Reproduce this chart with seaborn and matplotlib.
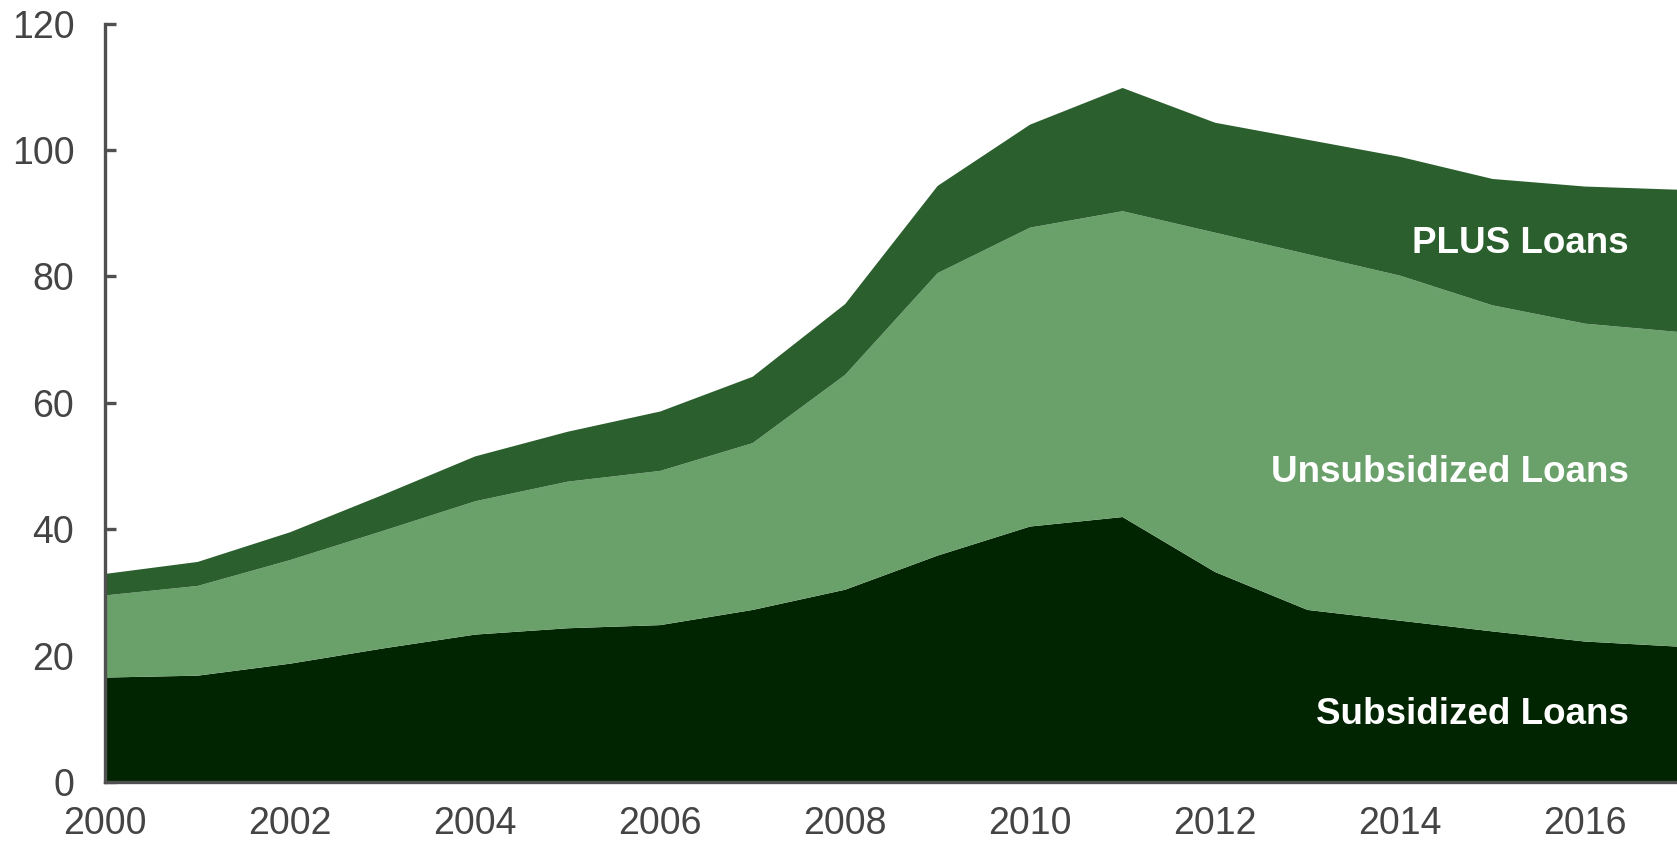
import matplotlib
matplotlib.use("Agg")
import matplotlib.pyplot as plt
import seaborn as sns
import numpy as np

# Loan volumes by type (billions)
years = list(range(2000, 2018))
subsidized = [16.6, 16.9, 18.8, 21.2, 23.4, 24.4, 24.9, 27.3, 30.5, 35.9,
              40.5, 42.0, 33.3, 27.3, 25.6, 23.9, 22.3, 21.5]
sub_plus_unsub = [29.6, 31.1, 35.2, 39.8, 44.5, 47.6, 49.3, 53.7, 64.5, 80.6,
                  87.8, 90.4, 87.0, 83.6, 80.2, 75.5, 72.6, 71.3]
total = [33.0, 34.9, 39.6, 45.5, 51.6, 55.5, 58.7, 64.2, 75.7, 94.4,
         104.1, 109.9, 104.4, 101.7, 99.0, 95.5, 94.3, 93.8]

unsubsidized = list(np.array(sub_plus_unsub) - np.array(subsidized))
plus = list(np.array(total) - np.array(sub_plus_unsub))

labels = ["Subsidized Loans", "Unsubsidized Loans", "PLUS Loans"]
colors = ["#012401", "#6aa16b", "#2b5f2e"]

sns.set_theme(style="white")
plt.rcParams['font.family'] = ['Liberation Sans', 'DejaVu Sans']

fig = plt.figure(figsize=(16.77, 8.44), dpi=100)
ax = fig.add_axes([0.0625, 0.0735, 0.9375, 0.8985])

ax.stackplot(years, subsidized, unsubsidized, plus, colors=colors, linewidth=0)

ax.set_xlim(2000, 2017)
ax.set_ylim(0, 120)
ax.set_xticks(range(2000, 2017, 2))
ax.set_yticks(range(0, 121, 20))

axis_grey = "#505050"
for side in ["top", "right"]:
    ax.spines[side].set_visible(False)
for side in ["left", "bottom"]:
    ax.spines[side].set_color(axis_grey)
    ax.spines[side].set_linewidth(2.4)

ax.tick_params(axis="y", left=True, direction="in", length=8, width=2.4,
               color=axis_grey, labelsize=27, labelcolor="#444444", pad=22)
ax.tick_params(axis="x", length=0, labelsize=27, labelcolor="#444444", pad=17)
ax.grid(False)

# In-area labels
text_kw = dict(color="white", fontsize=26.5, fontweight="bold", ha="right", va="center")
ax.text(2016.48, 85.2, "PLUS Loans", **text_kw)
ax.text(2016.48, 49.0, "Unsubsidized Loans", **text_kw)
ax.text(2016.48, 10.7, "Subsidized Loans", **text_kw)

fig.savefig("out.png", dpi=100)
